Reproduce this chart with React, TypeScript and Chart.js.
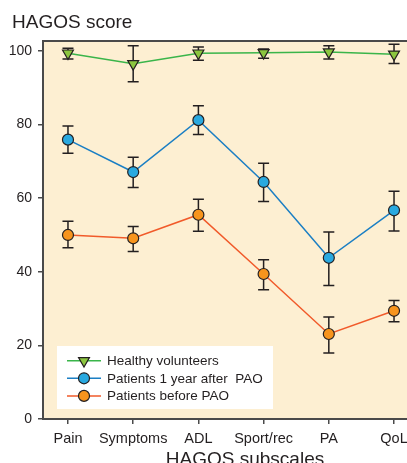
import React, { useEffect, useRef } from "react";
import { Chart, registerables } from "chart.js";

Chart.register(...registerables);

const categories = ["Pain", "Symptoms", "ADL", "Sport/rec", "PA", "QoL"];
const yTicks = [0, 20, 40, 60, 80, 100];

const healthyLabel = "Healthy volunteers";
const healthyMean = [99.4, 96.5, 99.4, 99.5, 99.7, 99.1];
const healthyLow = [97.8, 91.6, 97.5, 98.0, 97.8, 96.6];
const healthyHigh = [100.7, 101.4, 101.1, 100.5, 101.4, 101.8];

const afterLabel = "Patients 1 year after  PAO";
const afterMean = [75.9, 67.1, 81.2, 64.4, 43.8, 56.7];
const afterLow = [72.2, 62.9, 77.3, 59.1, 36.3, 51.1];
const afterHigh = [79.6, 71.1, 85.1, 69.5, 50.8, 61.9];

const beforeLabel = "Patients before PAO";
const beforeMean = [50.0, 49.1, 55.5, 39.4, 23.1, 29.4];
const beforeLow = [46.5, 45.5, 51.0, 35.1, 17.9, 26.4];
const beforeHigh = [53.7, 52.3, 59.7, 43.3, 27.7, 32.2];

const FONT = "'Liberation Sans', Arial, Helvetica, sans-serif";
const INK = "#231f20";
const AXIS = "#4a4a4a";
const PLOT_BG = "#fdefd2";

const CANVAS_W = 430;
const CANVAS_H = 463;

export default function App() {
  const ref = useRef<HTMLCanvasElement | null>(null);

  useEffect(() => {
    const canvas = ref.current;
    if (!canvas) return;

    const series = [
      { label: beforeLabel, mean: beforeMean, low: beforeLow, high: beforeHigh, line: "#f15a2a", fill: "#f7941d", style: "circle", rot: 0, r: 5.5 },
      { label: afterLabel, mean: afterMean, low: afterLow, high: afterHigh, line: "#1b7fc4", fill: "#29a9e0", style: "circle", rot: 0, r: 5.5 },
      { label: healthyLabel, mean: healthyMean, low: healthyLow, high: healthyHigh, line: "#3ab54a", fill: "#8cc63f", style: "triangle", rot: 180, r: 6.3 },
    ];

    const bgPlugin = {
      id: "bg",
      beforeDraw(chart: any) {
        const { ctx, chartArea: a } = chart;
        ctx.save();
        ctx.fillStyle = "#ffffff";
        ctx.fillRect(0, 0, chart.width, chart.height);
        ctx.fillStyle = PLOT_BG;
        ctx.fillRect(a.left, a.top, a.right - a.left, a.bottom - a.top);
        ctx.strokeStyle = AXIS;
        ctx.lineWidth = 2;
        ctx.beginPath();
        ctx.moveTo(a.left, a.top);
        ctx.lineTo(a.right, a.top);
        ctx.stroke();
        ctx.restore();
      },
    };

    const errPlugin = {
      id: "err",
      beforeDatasetsDraw(chart: any) {
        const { ctx } = chart;
        const xs = chart.scales.x;
        const ys = chart.scales.y;
        ctx.save();
        ctx.strokeStyle = INK;
        ctx.lineWidth = 1.5;
        series.forEach((s) => {
          s.mean.forEach((_, i) => {
            const x = xs.getPixelForValue(i);
            const y1 = ys.getPixelForValue(s.low[i]);
            const y2 = ys.getPixelForValue(s.high[i]);
            ctx.beginPath();
            ctx.moveTo(x, y1);
            ctx.lineTo(x, y2);
            ctx.moveTo(x - 5.5, y1);
            ctx.lineTo(x + 5.5, y1);
            ctx.moveTo(x - 5.5, y2);
            ctx.lineTo(x + 5.5, y2);
            ctx.stroke();
          });
        });
        ctx.restore();
      },
    };

    const textPlugin = {
      id: "texts",
      afterDraw(chart: any) {
        const { ctx } = chart;
        ctx.save();
        ctx.fillStyle = INK;
        ctx.textAlign = "left";
        ctx.textBaseline = "alphabetic";
        ctx.font = `19px ${FONT}`;
        ctx.fillText("HAGOS score", 12, 28);
        ctx.textAlign = "center";
        ctx.font = `19px ${FONT}`;
        ctx.fillText("HAGOS subscales", 245, 465);

        // legend
        const bx = 57, by = 346, bw = 216, bh = 63;
        ctx.fillStyle = "#ffffff";
        ctx.fillRect(bx, by, bw, bh);
        const order = [series[2], series[1], series[0]];
        order.forEach((s, k) => {
          const yy = 360.7 + k * 17.6;
          ctx.strokeStyle = s.line;
          ctx.lineWidth = 1.5;
          ctx.beginPath();
          ctx.moveTo(67, yy);
          ctx.lineTo(101, yy);
          ctx.stroke();
          ctx.fillStyle = s.fill;
          ctx.strokeStyle = INK;
          ctx.lineWidth = 1.2;
          ctx.beginPath();
          if (s.style === "triangle") {
            const r = s.r;
            ctx.moveTo(84 - r * 0.866, yy - r * 0.5);
            ctx.lineTo(84 + r * 0.866, yy - r * 0.5);
            ctx.lineTo(84, yy + r);
            ctx.closePath();
          } else {
            ctx.arc(84, yy, s.r, 0, Math.PI * 2);
          }
          ctx.fill();
          ctx.stroke();
          ctx.fillStyle = INK;
          ctx.textAlign = "left";
          ctx.textBaseline = "middle";
          ctx.font = `13.5px ${FONT}`;
          ctx.fillText(s.label, 107, yy + 0.5);
        });
        ctx.restore();
      },
    };

    const chart = new Chart(canvas, {
      type: "scatter",
      data: {
        datasets: series.map((s) => ({
          label: s.label,
          data: s.mean.map((v, i) => ({ x: i, y: v })),
          showLine: true,
          borderColor: s.line,
          borderWidth: 1.5,
          backgroundColor: s.fill,
          pointBackgroundColor: s.fill,
          pointBorderColor: INK,
          pointBorderWidth: 1.2,
          pointStyle: s.style as any,
          pointRotation: s.rot,
          pointRadius: s.r,
          pointHoverRadius: s.r,
        })),
      },
      options: {
        animation: false,
        responsive: false,
        events: [],
        layout: { padding: { left: 0, top: 41, right: CANVAS_W - 419, bottom: 0 } },
        plugins: {
          legend: { display: false },
          title: { display: false },
          tooltip: { enabled: false },
        },
        scales: {
          x: {
            type: "linear",
            min: -0.383,
            max: 5.383,
            afterBuildTicks: (scale: any) => {
              scale.ticks = categories.map((_, i) => ({ value: i }));
            },
            afterFit: (scale: any) => {
              scale.height = 44;
            },
            ticks: {
              autoSkip: false,
              maxRotation: 0,
              padding: 6,
              color: INK,
              font: { family: FONT, size: 14.5 },
              callback: (v: any) => categories[Math.round(Number(v))] ?? "",
            },
            grid: { display: true, drawOnChartArea: false, drawTicks: true, tickLength: 5, color: AXIS, lineWidth: 1.5 },
            border: { display: true, color: AXIS, width: 2 },
          },
          y: {
            type: "linear",
            min: 0,
            max: 102.7,
            afterBuildTicks: (scale: any) => {
              scale.ticks = yTicks.map((v) => ({ value: v }));
            },
            afterFit: (scale: any) => {
              scale.width = 43;
            },
            ticks: {
              padding: 6,
              color: INK,
              font: { family: FONT, size: 14 },
            },
            grid: { display: true, drawOnChartArea: false, drawTicks: true, tickLength: 5, color: AXIS, lineWidth: 1.5 },
            border: { display: true, color: AXIS, width: 2 },
          },
        },
      },
      plugins: [bgPlugin, errPlugin, textPlugin],
    });

    return () => chart.destroy();
  }, []);

  return (
    <div style={{ position: "absolute", left: 0, top: 0, width: 407, height: 463, overflow: "hidden", background: "#fff" }}>
      <canvas ref={ref} width={CANVAS_W} height={CANVAS_H} style={{ width: CANVAS_W, height: CANVAS_H, display: "block" }} />
    </div>
  );
}
